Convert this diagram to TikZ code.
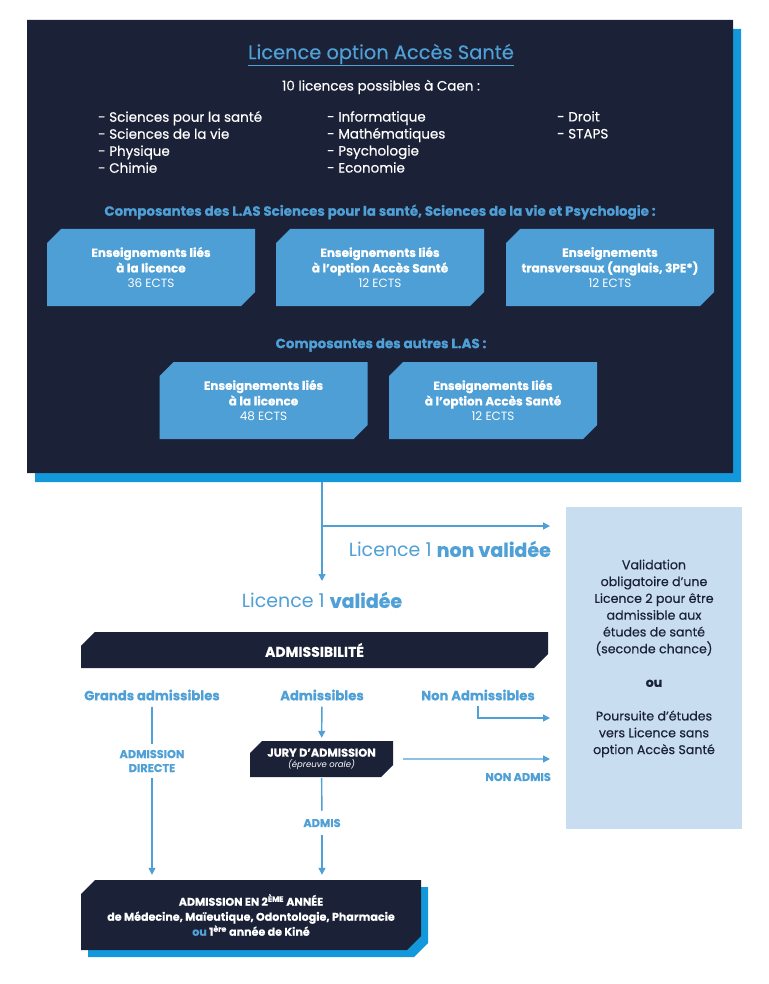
\documentclass[tikz,border=0pt]{standalone}
\usepackage{fontspec}
\setmainfont{Poppins}[BoldFeatures={FakeBold=0.5}]
\newfontfamily\medfont[FakeBold=0.4]{Poppins}
\usetikzlibrary{shapes.misc,shadows,arrows.meta}
\definecolor{navy}{HTML}{1B2238}
\definecolor{accent}{HTML}{4FA0D6}
\definecolor{shade}{HTML}{1399DB}
\definecolor{pale}{HTML}{C8DDF0}
\definecolor{boxblue}{HTML}{4E9FD5}
\begin{document}
\begin{tikzpicture}[x=1pt,y=-1pt,
  chbox/.style={chamfered rectangle, chamfered rectangle corners={north west,south east},
    chamfered rectangle xsep=#1, chamfered rectangle ysep=#1, inner sep=0pt},
  navybox/.style={chbox=#1, fill=navy, text=white},
  lbox/.style={chbox=7pt, fill=boxblue, text=white, minimum width=208pt, minimum height=77pt,
    align=center, font=\fontsize{12}{15.5}\selectfont},
  wtxt/.style={text=white, inner sep=0pt, font=\medfont\fontsize{13.5}{17}\selectfont},
  btxt/.style={text=accent, inner sep=0pt, font=\bfseries\fontsize{13.4}{14}\selectfont},
  lab/.style={text=accent, inner sep=0pt, font=\bfseries\fontsize{13.2}{14}\selectfont},
  small/.style={text=accent, inner sep=0pt, align=center, font=\bfseries\fontsize{11.3}{14}\selectfont},
  con/.style={draw=accent, line width=1.4pt},
  arr/.style={con, -{Triangle[length=7pt,width=7pt]}},
  big/.style={text=accent, inner sep=0pt, font=\fontsize{19}{20}\selectfont}]
\useasboundingbox (0,0) rectangle (768,984);
\fill[white] (0,0) rectangle (768,984);

% main box
\node[navybox=9pt, minimum width=706pt, minimum height=453pt,
  drop shadow={shadow xshift=8pt, shadow yshift=-9pt, fill=shade, opacity=1}] (main) at (380,246.5) {};
\node[text=accent, inner sep=0pt, font=\medfont\fontsize{19.4}{22}\selectfont] (title) at (381,55) {\underline{Licence option Accès Santé}};
\node[wtxt] (caen) at (381,87) {10 licences possibles à Caen :};
\node[wtxt, anchor=north west, align=left] (col1) at (98,111) {- Sciences pour la santé\\- Sciences de la vie\\- Physique\\- Chimie};
\node[wtxt, anchor=north west, align=left] (col2) at (327,111) {- Informatique\\- Mathématiques\\- Psychologie\\- Economie};
\node[wtxt, anchor=north west, align=left] (col3) at (557,111) {- Droit\\- STAPS};
\node[btxt] (comp1) at (380,212) {Composantes des L.AS Sciences pour la santé, Sciences de la vie et Psychologie :};
\node[lbox] (b1) at (151,267.5) {\textbf{Enseignements liés}\\\textbf{à la licence}\\36 ECTS};
\node[lbox] (b2) at (380,267.5) {\textbf{Enseignements liés}\\\textbf{à l’option Accès Santé}\\12 ECTS};
\node[lbox] (b3) at (610,267.5) {\textbf{Enseignements}\\\textbf{transversaux (anglais, 3PE*)}\\12 ECTS};
\node[btxt] (comp2) at (381,345) {Composantes des autres L.AS :};
\node[lbox] (b4) at (263.5,400.5) {\textbf{Enseignements liés}\\\textbf{à la licence}\\48 ECTS};
\node[lbox] (b5) at (493,400.5) {\textbf{Enseignements liés}\\\textbf{à l’option Accès Santé}\\12 ECTS};

% right box
\node[fill=pale, minimum width=176pt, minimum height=322pt, inner sep=0pt] (rbox) at (654,668) {};
\node[text=navy, inner sep=0pt, align=center, font=\medfont\fontsize{12.6}{16.8}\selectfont] (rtext) at (654,658.5)
  {Validation\\obligatoire d’une\\Licence 2 pour être\\admissible aux\\études de santé\\(seconde chance)\\[16.8pt]\textbf{ou}\\[16.8pt]Poursuite d’études\\vers Licence sans\\option Accès Santé};

% first arrows
\coordinate (s0) at (322,482);
\coordinate (br) at (322,526);
\coordinate (e1) at (550,526);
\coordinate (e2) at (322,581);
\draw[arr] (s0) -- (e2);
\draw[arr] (br) -- (e1);
\node[big, anchor=east] (nonval) at (551,549) {Licence 1 \textbf{non validée}};
\node[big] (val) at (322,600) {Licence 1 \textbf{validée}};

% admissibilite
\node[navybox=7pt, minimum width=467pt, minimum height=36pt, font=\bfseries\fontsize{14}{15}\selectfont] (adm) at (314.5,650) {ADMISSIBILITÉ};
\node[lab] (ga) at (152,695) {Grands admissibles};
\node[lab] (ad) at (322,695) {Admissibles};
\node[lab] (na) at (478,695) {Non Admissibles};
\node[small] (dir) at (152,761) {ADMISSION\\DIRECTE};
\node[navybox=6pt, minimum width=143pt, minimum height=36pt, align=center] (jury) at (321.5,759)
  {{\bfseries\fontsize{11.3}{12}\selectfont JURY D’ADMISSION}\\[-1.5pt]{\itshape\fontsize{8.5}{9}\selectfont (épreuve orale)}};
\node[small] (admis) at (322,823) {ADMIS};
\node[small, anchor=east] (nonadmis) at (551,777) {NON ADMIS};

% bottom box
\node[navybox=7pt, minimum width=340pt, minimum height=70pt, align=center,
  font=\bfseries\fontsize{11.1}{15}\selectfont,
  drop shadow={shadow xshift=7pt, shadow yshift=-7pt, fill=shade, opacity=1}] (bot) at (251,915)
  {ADMISSION EN 2\textsuperscript{ÈME} ANNÉE\\de Médecine, Maïeutique, Odontologie, Pharmacie\\\textcolor{accent}{ou} 1\textsuperscript{ère} année de Kiné};

\coordinate (e3) at (550,718);
\coordinate (e4) at (550,759);
\draw[con, shorten <=6pt, shorten >=6pt] (ga) -- (dir);
\draw[arr, shorten <=6pt, shorten >=5pt] (dir) -- (dir |- bot.north);
\draw[arr, shorten <=6pt, shorten >=3pt] (ad) -- (jury);
\draw[con, shorten <=1pt, shorten >=8pt] (jury) -- (admis);
\draw[arr, shorten <=8pt, shorten >=5pt] (admis) -- (admis |- bot.north);
\draw[arr, shorten <=10pt] (jury) -- (e4);
\draw[arr] ([yshift=-5pt]na.south) |- (e3);
\end{tikzpicture}
\end{document}
